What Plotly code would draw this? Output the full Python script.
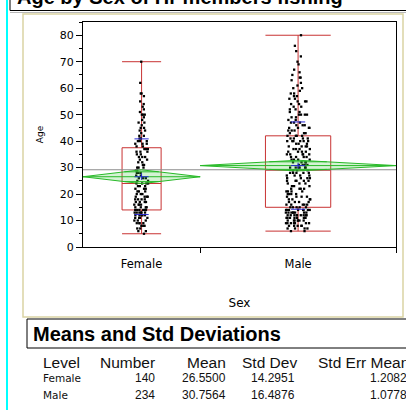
import numpy as np
import plotly.graph_objects as go

# ---- data -------------------------------------------------------------
groups = ["Female", "Male"]
group_n = [140, 234]
group_mean = [26.5500, 30.7564]
group_sd = [14.2951, 16.4876]
group_se = [1.2082, 1.0778]

# ages of the members and how many members share each age
female_ages = [5, 6, 7, 8, 9, 10, 11, 12, 13, 14, 15, 16, 17, 18, 19, 20, 21, 22, 23, 24,
               25, 26, 27, 28, 29, 30, 31, 32, 33, 34, 35, 36, 37, 38, 39, 40, 41, 42, 43, 44,
               45, 46, 47, 48, 49, 50, 51, 52, 53, 54, 55, 57, 58, 62, 70]
female_counts = [1, 2, 2, 3, 4, 3, 4, 5, 6, 7, 4, 4, 4, 4, 4, 3, 3, 3, 3, 4,
                 2, 3, 2, 3, 2, 3, 2, 2, 2, 3, 2, 3, 3, 2, 3, 3, 2, 2, 1, 2,
                 2, 1, 2, 1, 1, 3, 1, 1, 1, 1, 1, 1, 2, 1, 1]
male_ages = [6, 7, 8, 9, 10, 11, 12, 13, 14, 15, 16, 17, 18, 19, 20, 21, 22, 23, 24,
             25, 26, 27, 28, 29, 30, 31, 32, 33, 34, 35, 36, 37, 38, 39, 40, 41, 42, 43, 44,
             45, 46, 47, 48, 49, 50, 51, 52, 53, 54, 55, 56, 57, 58, 59, 60, 61, 62, 63, 64,
             65, 66, 67, 69, 70, 72, 74, 76, 80]
male_counts = [2, 4, 5, 7, 7, 8, 9, 8, 8, 5, 5, 4, 4, 4, 4, 4, 4, 3, 3,
               5, 4, 4, 5, 4, 6, 4, 4, 4, 4, 5, 4, 4, 4, 3, 6, 4, 4, 3, 3,
               4, 3, 3, 2, 2, 4, 2, 2, 2, 2, 3, 2, 2, 2, 1, 2, 1, 1, 1, 2,
               1, 1, 1, 1, 1, 1, 1, 1, 1]

y_tick_values = [0, 10, 20, 30, 40, 50, 60, 70, 80]
table_header = ["Level", "Number", "Mean", "Std Dev", "Std Err Mean"]

samples = [np.repeat(female_ages, female_counts), np.repeat(male_ages, male_counts)]

# ---- geometry helpers -------------------------------------------------
W, H = 406, 410
L, T, PW, PH = 83, 22, 313, 225


def fx(px):
    return (px - L) / PW


def fy(py):
    return (T + PH - py) / PH


# each group gets an x band proportional to its size
left_edges = np.concatenate([[0], np.cumsum(group_n)[:-1]])
centers = left_edges + np.array(group_n) / 2
total_n = sum(group_n)

T_CRIT = 1.966
pooled_sd = np.sqrt(sum((n - 1) * s ** 2 for n, s in zip(group_n, group_sd)) / (total_n - len(group_n)))
grand_mean = sum(n * m for n, m in zip(group_n, group_mean)) / total_n

RED = "rgb(200,50,50)"
GREEN = "rgb(40,185,40)"
BLUE = "rgb(40,40,210)"
FONT = "DejaVu Sans"

fig = go.Figure()

# grand mean reference line
fig.add_trace(go.Scatter(x=[0, total_n], y=[grand_mean, grand_mean], mode="lines",
                         line=dict(color="rgb(140,140,140)", width=1),
                         hoverinfo="skip", showlegend=False))

# means diamonds with overlap marks
for i in range(len(groups)):
    lo, c, hi = left_edges[i], centers[i], left_edges[i] + group_n[i]
    m = group_mean[i]
    ci = T_CRIT * pooled_sd / np.sqrt(group_n[i])
    fig.add_trace(go.Scatter(x=[lo, c, hi, c, lo], y=[m, m + ci, m, m - ci, m],
                             mode="lines", fill="toself", fillcolor="rgba(60,200,60,0.22)",
                             line=dict(color=GREEN, width=1), hoverinfo="skip", showlegend=False))
    fig.add_trace(go.Scatter(x=[lo, hi], y=[m, m], mode="lines",
                             line=dict(color=GREEN, width=1), hoverinfo="skip", showlegend=False))
    half = (hi - lo) / 2
    h = ci / np.sqrt(2)
    hw = half * (1 - 1 / np.sqrt(2))
    for yy in (m + h, m - h):
        fig.add_trace(go.Scatter(x=[c - hw, c + hw], y=[yy, yy], mode="lines",
                                 line=dict(color=GREEN, width=1), hoverinfo="skip", showlegend=False))

# outlier box plots with jittered points
for i, g in enumerate(groups):
    fig.add_trace(go.Box(
        y=samples[i], x=np.full(len(samples[i]), centers[i]), name=g,
        width=group_n[i] / 3, boxpoints="all", jitter=0.38, pointpos=0,
        whiskerwidth=1, fillcolor="rgba(0,0,0,0)",
        line=dict(color=RED, width=1),
        marker=dict(color="black", size=2.3, symbol="square"),
        showlegend=False, hoverinfo="y"))

# mean +/- std dev lines and mean error bars
for i in range(len(groups)):
    c, m, s, se = centers[i], group_mean[i], group_sd[i], group_se[i]
    seg = 8.5
    for yy in (m - s, m, m + s):
        fig.add_trace(go.Scatter(x=[c - seg, c + seg], y=[yy, yy], mode="lines",
                                 line=dict(color=BLUE, width=1), hoverinfo="skip", showlegend=False))
    fig.add_trace(go.Scatter(x=[c, c], y=[m - se, m + se], mode="lines",
                             line=dict(color=BLUE, width=1), hoverinfo="skip", showlegend=False))

# ---- page decorations ---------------------------------------------------
shapes = [
    dict(type="line", x0=fx(7), x1=fx(7), y0=fy(0), y1=fy(H), line=dict(color="#00FFFF", width=2)),
    dict(type="rect", x0=fx(10), x1=fx(430), y0=fy(10.5), y1=fy(-30), line=dict(color="black", width=1)),
    dict(type="line", x0=fx(10), x1=fx(430), y0=fy(12.5), y1=fy(12.5), line=dict(color="#B8B8B8", width=1)),
    dict(type="rect", x0=fx(23), x1=fx(403), y0=fy(317), y1=fy(14), line=dict(color="#DAD4A4", width=1.5)),
    dict(type="rect", x0=fx(27), x1=fx(430), y0=fy(348), y1=fy(319), line=dict(color="black", width=1)),
]
for sh in shapes:
    sh.update(xref="paper", yref="paper")

annotations = [
    dict(text="<b>Age by Sex of Hr members fishing</b>", x=fx(15), y=fy(-3), xanchor="left", yanchor="middle",
         font=dict(family="Liberation Sans", size=20, color="black")),
    dict(text="<b>Means and Std Deviations</b>", x=fx(31), y=fy(334), xanchor="left", yanchor="middle",
         font=dict(family="Liberation Sans", size=20, color="black")),
]

head_font = dict(family="Liberation Sans", size=15.5, color="#111111")
head_pos = [(41, "left"), (157, "right"), (228, "right"), (299, "right"), (316, "left")]
for txt, (px, anc) in zip(table_header, head_pos):
    annotations.append(dict(text=txt, x=fx(px), y=fy(362), xanchor=anc, yanchor="middle", font=head_font))

num_font = dict(family="Liberation Sans", size=12, color="#111111")
lvl_font = dict(family=FONT, size=10.5, color="#111111")
for i, g in enumerate(groups):
    yy = fy(378 + 16.5 * i)
    annotations.append(dict(text=g, x=fx(41), y=yy, xanchor="left", yanchor="middle", font=lvl_font))
    cells = [f"{group_n[i]}", f"{group_mean[i]:.4f}", f"{group_sd[i]:.4f}", f"{group_se[i]:.4f}"]
    for txt, px in zip(cells, [157, 228, 297, 409]):
        annotations.append(dict(text=txt, x=fx(px), y=yy, xanchor="right", yanchor="middle", font=num_font))

for a in annotations:
    a.update(xref="paper", yref="paper", showarrow=False)

fig.update_layout(
    width=W, height=H,
    margin=dict(l=L, r=W - L - PW, t=T, b=H - T - PH, pad=0),
    paper_bgcolor="white", plot_bgcolor="white",
    shapes=shapes, annotations=annotations,
    showlegend=False, boxmode="overlay",
    xaxis=dict(range=[0, total_n], tickmode="array", tickvals=list(centers), ticktext=groups,
               ticks="", ticklabelstandoff=6, showgrid=False, zeroline=False,
               showline=True, linecolor="black", linewidth=1, mirror=True,
               tickfont=dict(family=FONT, size=11.5, color="black"),
               minor=dict(tickmode="array", tickvals=[group_n[0], total_n], ticks="outside",
                          ticklen=5, tickcolor="black", showgrid=False),
               title=dict(text="Sex", font=dict(family=FONT, size=12, color="black"), standoff=28)),
    yaxis=dict(range=[0, 85], tickmode="array", tickvals=y_tick_values, ticks="outside", ticklen=6,
               tickcolor="black", showgrid=False, zeroline=False,
               showline=True, linecolor="black", linewidth=1, mirror=True,
               tickfont=dict(family=FONT, size=11, color="black"),
               minor=dict(dtick=5, tick0=0, ticks="outside", ticklen=3, tickcolor="black", showgrid=False),
               title=dict(text="Age", font=dict(family=FONT, size=9, color="black"), standoff=14)),
)

fig.write_html("out.html")
